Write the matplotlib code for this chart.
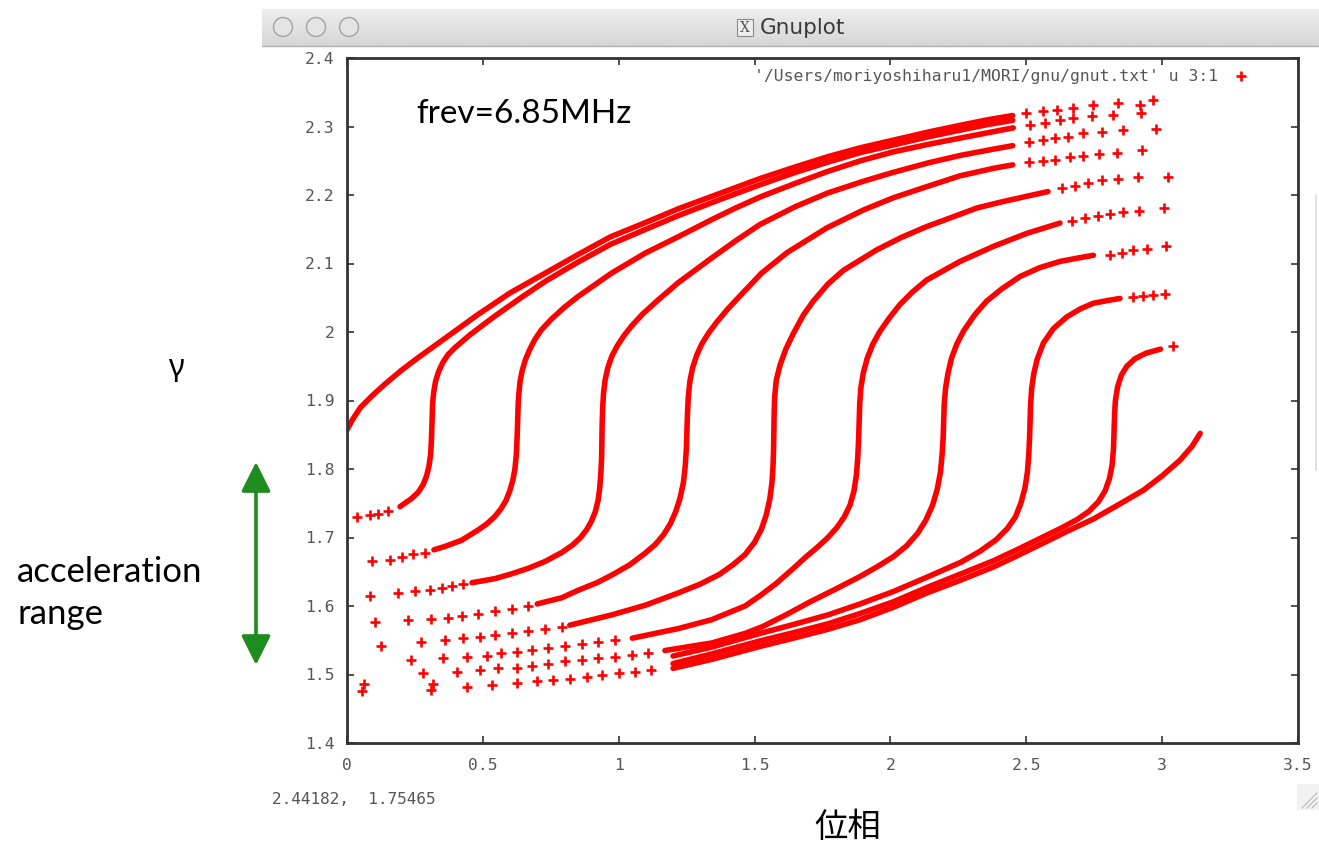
import matplotlib.pyplot as plt
import numpy as np
from matplotlib.patches import Circle, Rectangle, FancyArrowPatch
from matplotlib.lines import Line2D

W, H = 1319, 850
RED = "#ff0000"
GREEN = "#1e8c1e"
MONO = "DejaVu Sans Mono"

# dense parts of each tracked particle: phase [rad] vs gamma
t0_phase = [0.0, 0.02, 0.05, 0.09, 0.14, 0.20, 0.26, 0.33, 0.40, 0.48, 0.60, 0.73, 0.85, 0.97, 1.10, 1.22, 1.37,
            1.52, 1.65, 1.77, 1.89, 2.01, 2.14, 2.26, 2.36, 2.45]
t0_gamma = [1.857, 1.872, 1.890, 1.906, 1.924, 1.944, 1.962, 1.982, 2.002, 2.025, 2.057, 2.086, 2.113, 2.139, 2.160,
            2.180, 2.202, 2.224, 2.241, 2.256, 2.269, 2.280, 2.292, 2.302, 2.310, 2.316]

s1_phase = [0.195, 0.238, 0.262, 0.280, 0.293, 0.302, 0.308, 0.311, 0.313, 0.315, 0.319, 0.326, 0.337, 0.352, 0.372,
            0.400, 0.453, 0.54, 0.64, 0.73, 0.85, 0.97, 1.10, 1.22, 1.37, 1.52, 1.65, 1.77, 1.89, 2.01, 2.14, 2.26,
            2.36, 2.45]
s1_gamma = [1.745, 1.757, 1.766, 1.777, 1.790, 1.805, 1.822, 1.845, 1.870, 1.895, 1.912, 1.928, 1.942, 1.955, 1.967,
            1.978, 1.996, 2.022, 2.050, 2.074, 2.102, 2.128, 2.150, 2.170, 2.193, 2.215, 2.233, 2.248, 2.262, 2.273,
            2.285, 2.295, 2.303, 2.309]

s2_phase = [0.32, 0.361, 0.422, 0.483, 0.515, 0.545, 0.567, 0.585, 0.599, 0.610, 0.618, 0.623, 0.626, 0.628, 0.630,
            0.633, 0.637, 0.645, 0.657, 0.672, 0.690, 0.715, 0.753, 0.800, 0.851, 0.974, 1.097, 1.219, 1.342, 1.430,
            1.526, 1.650, 1.766, 1.890, 2.011, 2.140, 2.256, 2.360, 2.452]
s2_gamma = [1.682, 1.687, 1.696, 1.711, 1.720, 1.731, 1.742, 1.754, 1.768, 1.783, 1.800, 1.820, 1.845, 1.870, 1.895,
            1.912, 1.928, 1.944, 1.960, 1.974, 1.988, 2.003, 2.019, 2.036, 2.052, 2.086, 2.115, 2.139, 2.164, 2.181,
            2.198, 2.217, 2.234, 2.250, 2.263, 2.274, 2.283, 2.291, 2.298]

s3_phase = [0.46, 0.545, 0.606, 0.667, 0.729, 0.790, 0.830, 0.860, 0.883, 0.900, 0.914, 0.924, 0.930, 0.934, 0.937,
            0.938, 0.939, 0.941, 0.944, 0.950, 0.960, 0.975, 0.995, 1.020, 1.050, 1.090, 1.140, 1.219, 1.342, 1.430,
            1.520, 1.650, 1.770, 1.900, 2.010, 2.140, 2.260, 2.380, 2.450]
s3_gamma = [1.634, 1.640, 1.647, 1.655, 1.665, 1.678, 1.689, 1.700, 1.712, 1.724, 1.738, 1.754, 1.772, 1.792, 1.815,
            1.840, 1.865, 1.890, 1.910, 1.930, 1.948, 1.965, 1.980, 1.995, 2.010, 2.027, 2.045, 2.072, 2.108, 2.133,
            2.157, 2.183, 2.203, 2.220, 2.233, 2.247, 2.258, 2.267, 2.272]

s4_phase = [0.70, 0.790, 0.851, 0.920, 0.974, 1.040, 1.097, 1.135, 1.165, 1.190, 1.210, 1.226, 1.238, 1.245, 1.249,
            1.251, 1.253, 1.256, 1.262, 1.272, 1.287, 1.305, 1.330, 1.360, 1.400, 1.440, 1.526, 1.620, 1.766, 1.900,
            2.011, 2.140, 2.256, 2.380, 2.450]
s4_gamma = [1.603, 1.612, 1.623, 1.634, 1.645, 1.660, 1.677, 1.690, 1.704, 1.720, 1.738, 1.758, 1.780, 1.805, 1.830,
            1.855, 1.880, 1.905, 1.928, 1.948, 1.966, 1.982, 1.998, 2.014, 2.033, 2.050, 2.086, 2.116, 2.152, 2.178,
            2.196, 2.213, 2.228, 2.239, 2.244]

s5_phase = [0.82, 0.974, 1.097, 1.219, 1.300, 1.370, 1.420, 1.465, 1.500, 1.525, 1.543, 1.556, 1.564, 1.568, 1.570,
            1.571, 1.572, 1.574, 1.580, 1.594, 1.615, 1.643, 1.680, 1.716, 1.770, 1.827, 1.950, 2.040, 2.134, 2.230,
            2.318, 2.410, 2.500, 2.580]
s5_gamma = [1.572, 1.587, 1.601, 1.619, 1.632, 1.646, 1.660, 1.675, 1.693, 1.712, 1.733, 1.756, 1.780, 1.805, 1.830,
            1.855, 1.880, 1.905, 1.930, 1.952, 1.975, 1.998, 2.025, 2.045, 2.070, 2.090, 2.120, 2.138, 2.154, 2.168,
            2.181, 2.190, 2.198, 2.205]

s6_phase = [1.05, 1.219, 1.342, 1.465, 1.520, 1.580, 1.643, 1.690, 1.729, 1.770, 1.802, 1.830, 1.851, 1.866, 1.875,
            1.880, 1.883, 1.885, 1.887, 1.891, 1.900, 1.915, 1.935, 1.960, 1.995, 2.035, 2.080, 2.134, 2.256, 2.379,
            2.502, 2.624]
s6_gamma = [1.553, 1.567, 1.580, 1.600, 1.615, 1.633, 1.655, 1.672, 1.685, 1.700, 1.714, 1.730, 1.747, 1.768, 1.792,
            1.818, 1.845, 1.870, 1.895, 1.918, 1.940, 1.962, 1.982, 2.000, 2.020, 2.040, 2.058, 2.076, 2.103, 2.125,
            2.144, 2.159]

s7_phase = [1.17, 1.342, 1.465, 1.530, 1.620, 1.704, 1.800, 1.888, 1.950, 2.011, 2.060, 2.100, 2.130, 2.155, 2.172,
            2.184, 2.190, 2.194, 2.196, 2.198, 2.203, 2.212, 2.225, 2.245, 2.270, 2.310, 2.354, 2.410, 2.477, 2.550,
            2.624, 2.690, 2.747]
s7_gamma = [1.535, 1.546, 1.560, 1.570, 1.588, 1.606, 1.625, 1.643, 1.657, 1.672, 1.688, 1.706, 1.725, 1.747, 1.770,
            1.795, 1.820, 1.845, 1.870, 1.895, 1.918, 1.940, 1.962, 1.983, 2.002, 2.025, 2.045, 2.063, 2.081, 2.094,
            2.103, 2.108, 2.112]

s8_phase = [1.20, 1.342, 1.520, 1.643, 1.770, 1.888, 2.010, 2.134, 2.260, 2.330, 2.390, 2.430, 2.460, 2.480, 2.495,
            2.504, 2.509, 2.512, 2.514, 2.516, 2.520, 2.528, 2.540, 2.563, 2.600, 2.649, 2.700, 2.747, 2.800, 2.845]
s8_gamma = [1.527, 1.540, 1.560, 1.573, 1.587, 1.603, 1.621, 1.642, 1.664, 1.680, 1.697, 1.713, 1.730, 1.750, 1.772,
            1.795, 1.820, 1.845, 1.870, 1.895, 1.918, 1.940, 1.960, 1.984, 2.005, 2.022, 2.034, 2.042, 2.046, 2.049]

s9_phase = [1.20, 1.342, 1.520, 1.643, 1.770, 1.888, 2.010, 2.134, 2.260, 2.379, 2.470, 2.563, 2.630, 2.686, 2.730,
            2.765, 2.790, 2.806, 2.816, 2.821, 2.823, 2.825, 2.828, 2.836, 2.850, 2.870, 2.900, 2.940, 2.994]
s9_gamma = [1.516, 1.530, 1.549, 1.561, 1.574, 1.589, 1.606, 1.627, 1.647, 1.666, 1.683, 1.701, 1.714, 1.726, 1.738,
            1.752, 1.768, 1.786, 1.806, 1.830, 1.855, 1.880, 1.900, 1.920, 1.937, 1.950, 1.961, 1.969, 1.975]

b0_phase = [1.20, 1.342, 1.520, 1.643, 1.770, 1.888, 2.010, 2.134, 2.260, 2.379, 2.470, 2.563, 2.650, 2.747, 2.840,
            2.931, 3.000, 3.066, 3.110, 3.140]
b0_gamma = [1.509, 1.522, 1.541, 1.553, 1.566, 1.580, 1.598, 1.619, 1.638, 1.657, 1.674, 1.692, 1.709, 1.727, 1.748,
            1.769, 1.790, 1.813, 1.833, 1.852]

# loose crosses where the particles move fast (upper right), one row per particle
tail_hi_phase = [2.500, 2.563, 2.612, 2.673, 2.747, 2.839, 2.919, 2.968,
                 2.514, 2.569, 2.624, 2.673, 2.741, 2.820, 2.922,
                 2.510, 2.560, 2.606, 2.655, 2.710, 2.778, 2.855, 2.978,
                 2.510, 2.560, 2.606, 2.661, 2.710, 2.769, 2.833, 2.925,
                 2.630, 2.679, 2.728, 2.778, 2.837, 2.910, 3.023,
                 2.667, 2.716, 2.765, 2.808, 2.857, 2.916, 3.005,
                 2.808, 2.851, 2.894, 2.946, 3.014,
                 2.894, 2.931, 2.968, 3.011,
                 3.041]
tail_hi_gamma = [2.319, 2.322, 2.324, 2.327, 2.331, 2.335, 2.331, 2.339,
                 2.302, 2.305, 2.309, 2.312, 2.315, 2.317, 2.319,
                 2.277, 2.280, 2.283, 2.285, 2.290, 2.292, 2.295, 2.297,
                 2.248, 2.250, 2.251, 2.255, 2.257, 2.260, 2.262, 2.266,
                 2.210, 2.213, 2.218, 2.222, 2.223, 2.226, 2.227,
                 2.162, 2.167, 2.169, 2.172, 2.175, 2.177, 2.181,
                 2.112, 2.116, 2.119, 2.121, 2.125,
                 2.051, 2.053, 2.054, 2.056,
                 1.979]

# loose crosses (lower left)
tail_lo_phase = [0.036, 0.085, 0.115, 0.152,
                 0.091, 0.158, 0.201, 0.244, 0.287,
                 0.085, 0.189, 0.250, 0.305, 0.349, 0.385, 0.428,
                 0.103, 0.226, 0.309, 0.373, 0.422, 0.483, 0.545, 0.606, 0.667,
                 0.125, 0.272, 0.361, 0.428, 0.490, 0.545, 0.606, 0.667, 0.729, 0.790,
                 0.236, 0.354, 0.441, 0.514, 0.567, 0.625, 0.680, 0.741, 0.802, 0.864, 0.925, 0.986,
                 0.281, 0.404, 0.490, 0.557, 0.625, 0.680, 0.741, 0.802, 0.864, 0.925, 0.986, 1.048, 1.109,
                 0.055, 0.062, 0.308, 0.316, 0.440, 0.535, 0.625, 0.698, 0.759, 0.821, 0.882, 0.940, 1.000, 1.060,
                 1.120]
tail_lo_gamma = [1.730, 1.733, 1.735, 1.739,
                 1.665, 1.667, 1.672, 1.676, 1.678,
                 1.614, 1.619, 1.622, 1.624, 1.627, 1.629, 1.632,
                 1.576, 1.580, 1.581, 1.583, 1.585, 1.588, 1.592, 1.595, 1.600,
                 1.542, 1.547, 1.550, 1.553, 1.555, 1.557, 1.560, 1.563, 1.566, 1.570,
                 1.521, 1.524, 1.526, 1.527, 1.531, 1.533, 1.536, 1.538, 1.542, 1.545, 1.547, 1.550,
                 1.502, 1.504, 1.506, 1.509, 1.510, 1.512, 1.516, 1.519, 1.521, 1.524, 1.526, 1.528, 1.532,
                 1.476, 1.486, 1.477, 1.486, 1.482, 1.485, 1.487, 1.490, 1.492, 1.494, 1.497, 1.499, 1.502, 1.504,
                 1.507]

x_ticks = [0, 0.5, 1, 1.5, 2, 2.5, 3, 3.5]
x_labels = ["0", "0.5", "1", "1.5", "2", "2.5", "3", "3.5"]
y_ticks = [1.4, 1.5, 1.6, 1.7, 1.8, 1.9, 2.0, 2.1, 2.2, 2.3, 2.4]
y_labels = ["1.4", "1.5", "1.6", "1.7", "1.8", "1.9", "2", "2.1", "2.2", "2.3", "2.4"]

orbits = [(t0_phase, t0_gamma), (s1_phase, s1_gamma), (s2_phase, s2_gamma),
          (s3_phase, s3_gamma), (s4_phase, s4_gamma), (s5_phase, s5_gamma),
          (s6_phase, s6_gamma), (s7_phase, s7_gamma), (s8_phase, s8_gamma),
          (s9_phase, s9_gamma), (b0_phase, b0_gamma)]

fig = plt.figure(figsize=(W / 100, H / 100), dpi=100)
fig.patch.set_facecolor("white")

# overlay in pixel units for the window decoration and slide annotations
over = fig.add_axes([0, 0, 1, 1])
over.set_xlim(0, W)
over.set_ylim(H, 0)
over.axis("off")

# title bar of the X11 window
grad = np.linspace(0.93, 0.84, 50)[:, None] * np.ones((1, 10))
over.imshow(grad, cmap="gray", vmin=0, vmax=1, aspect="auto",
            extent=(262, W, 46, 9), zorder=1)
over.plot([262, W], [46, 46], color="#b0b0b0", lw=1, zorder=2)
for bx in [283, 316, 349]:
    over.add_patch(Circle((bx, 27), 9.5, facecolor="#e4e4e4", edgecolor="#a2a2a2", lw=1, zorder=3))
over.add_patch(Rectangle((737, 19), 16, 17, facecolor="#eeeeee", edgecolor="#8a8a8a", lw=0.8, zorder=3))
over.text(745, 28, "X", ha="center", va="center", fontsize=10, color="#555555",
          family="DejaVu Serif", zorder=4)
over.text(760, 28, "Gnuplot", ha="left", va="center", fontsize=15.5, color="#3a3a3a",
          family="DejaVu Sans", zorder=4)

# window resize grip and neighbour window edge
over.add_patch(Rectangle((1297, 784), 22, 26, facecolor="#f2f2f2", edgecolor="none", zorder=1))
for k in range(3):
    over.plot([1302 + 5 * k, 1317], [808, 793 + 5 * k], color="#b8b8b8", lw=0.8, zorder=2)
over.plot([1316, 1316], [195, 470], color="#dddddd", lw=1.2, zorder=1)

# mouse readout of the gnuplot window
over.text(272, 800, "2.44182,  1.75465", ha="left", va="center", fontsize=11.5,
          color="#555555", family=MONO)

# slide annotations
over.text(176, 368, "γ", ha="center", va="center", fontsize=22, family=["Noto Sans", "DejaVu Sans"])
over.text(17, 582, "acceleration", ha="left", va="baseline", fontsize=25, family=["Lato", "DejaVu Sans"])
over.text(17, 624, "range", ha="left", va="baseline", fontsize=25, family=["Lato", "DejaVu Sans"])
over.add_patch(FancyArrowPatch((256, 462), (256, 665), arrowstyle="<|-|>", mutation_scale=45,
                               color=GREEN, lw=2.6, shrinkA=0, shrinkB=0, zorder=3))
over.text(848, 828, "位相", ha="center", va="center", fontsize=24,
          family=["Noto Sans CJK JP", "DejaVu Sans"])

# the gnuplot plot itself
ax = fig.add_axes([347 / W, 1 - 743 / H, (1298 - 347) / W, (743 - 58) / H])
ax.set_facecolor("white")
for ph, g in orbits:
    ax.plot(ph, g, color=RED, lw=4.0, solid_capstyle="round", solid_joinstyle="round")
ax.plot(tail_hi_phase, tail_hi_gamma, ls="none", marker="+", ms=6.5, mew=1.9, color=RED)
ax.plot(tail_lo_phase, tail_lo_gamma, ls="none", marker="+", ms=6.5, mew=1.9, color=RED)

ax.set_xlim(0, 3.5)
ax.set_ylim(1.4, 2.4)
ax.set_xticks(x_ticks)
ax.set_xticklabels(x_labels)
ax.set_yticks(y_ticks)
ax.set_yticklabels(y_labels)
ax.tick_params(direction="in", length=5, width=1.2, color="#333333", top=True, right=True,
               labelsize=11.8, labelcolor="#555555")
ax.tick_params(axis="x", pad=11)
ax.tick_params(axis="y", pad=9)
for lab in ax.get_xticklabels() + ax.get_yticklabels():
    lab.set_family(MONO)
for sp in ax.spines.values():
    sp.set_linewidth(2)
    sp.set_color("#333333")

# key
ax.text(1218 / W, 1 - 76 / H, "'/Users/moriyoshiharu1/MORI/gnu/gnut.txt' u 3:1", transform=fig.transFigure,
        ha="right", va="center", fontsize=11.8, color="#555555", family=MONO)
fig.add_artist(Line2D([1241 / W], [1 - 76 / H], marker="+", ms=6.5, mew=1.9, color=RED,
                      transform=fig.transFigure))

# frequency label, on top of the plot area
fig.text(416 / W, 1 - 123 / H, "frev=6.85MHz", ha="left", va="baseline", fontsize=24,
         family=["Lato", "DejaVu Sans"])

fig.savefig("out.png", dpi=100, facecolor="white")
